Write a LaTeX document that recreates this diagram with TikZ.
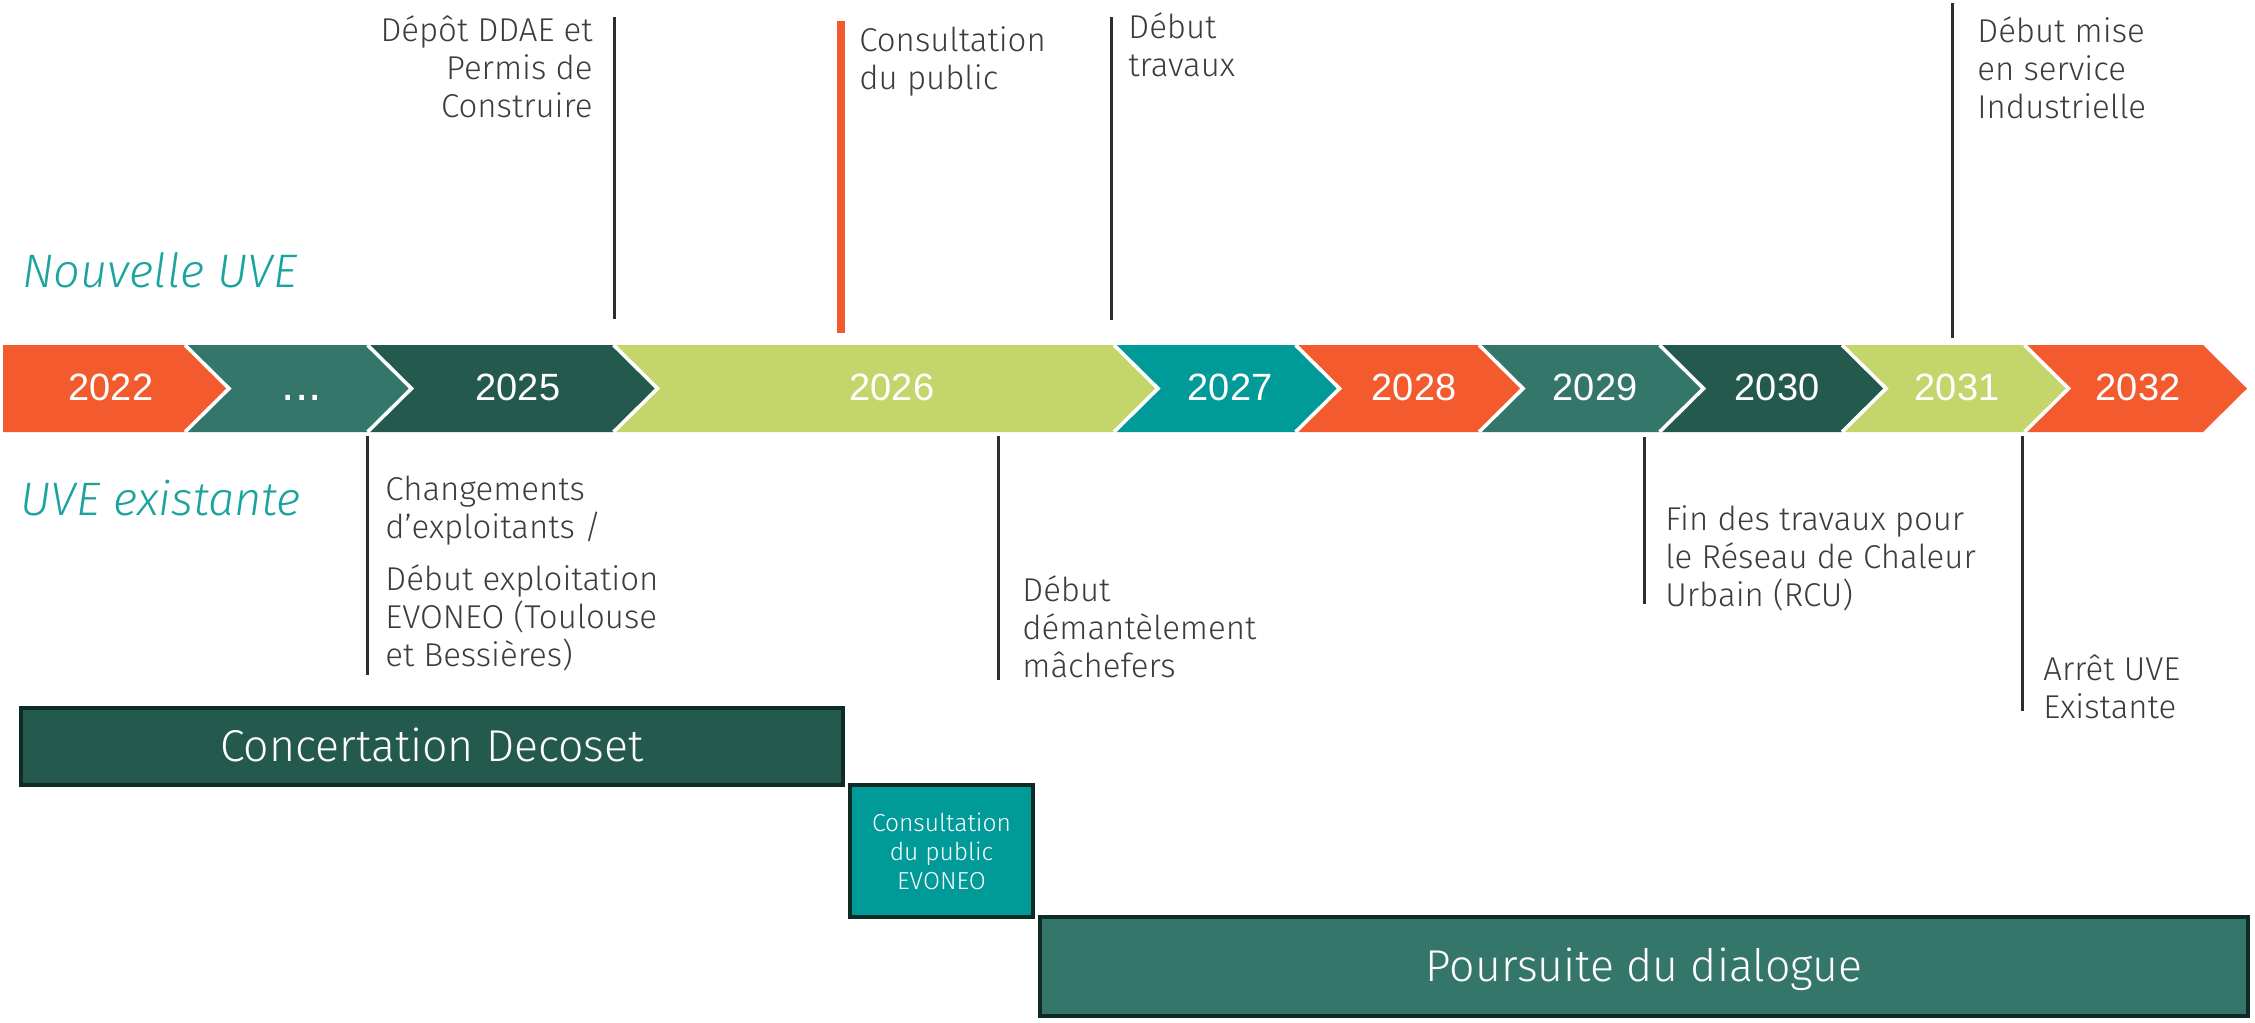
\documentclass[tikz,border=0pt]{standalone}
\usepackage{fontspec}
\setmainfont{Fira Sans Light}[ItalicFont={Fira Sans Light Italic}]
\newfontfamily\yearfont{Liberation Sans}

\definecolor{uveorange}{HTML}{F35B2F}
\definecolor{uvemid}{HTML}{35766A}
\definecolor{uvedark}{HTML}{24594E}
\definecolor{uvelime}{HTML}{C4D66B}
\definecolor{uveteal}{HTML}{009A98}
\definecolor{tickgray}{HTML}{2E2E2E}
\definecolor{notegray}{HTML}{3C3C3C}
\definecolor{labelteal}{HTML}{1BA39E}
\definecolor{boxedge}{HTML}{0F2B26}

\begin{document}
\begin{tikzpicture}[x=0.5pt,y=-0.5pt,
  tick/.style={draw=tickgray, line width=1.5pt},
  % multi-line notes are anchored on the baseline of their last line
  note/.style={inner sep=0pt, text=notegray, font=\fontsize{16.5}{19}\selectfont, align=left},
  rowlabel/.style={inner sep=0pt, text=labelteal, font=\itshape\fontsize{23.5}{28}\selectfont, anchor=base west},
  yearlbl/.style={inner sep=0pt, text=white, font=\yearfont\fontsize{19}{22}\selectfont, anchor=base},
  phasebox/.style={draw=boxedge, line width=2pt, text=white, inner sep=0pt, align=center,
    font=\fontsize{22.3}{26}\selectfont},
  oneline/.style={text height=15pt, text depth=0pt}
]
\useasboundingbox (0,0) rectangle (2255,1023);

% ---- year band ----
\fill[uveorange] (3,345) -- (185,345) -- (229,388.5) -- (185,432) -- (3,432) -- cycle;
\foreach \l/\r/\c in {185/367.5/uvemid, 367.5/613.5/uvedark, 613.5/1114/uvelime,
                      1114/1295.5/uveteal, 1295.5/1479/uveorange, 1479/1659.5/uvemid,
                      1659.5/1842/uvedark, 1842/2024.5/uvelime, 2024.5/2203/uveorange}
  \fill[\c] (\l,345) -- (\r,345) -- (\r+44,388.5) -- (\r,432) -- (\l,432) -- (\l+44,388.5) -- cycle;
\foreach \b in {185,367.5,613.5,1114,1295.5,1479,1659.5,1842,2024.5}
  \draw[white, line width=1.8pt] (\b,345) -- (\b+44,388.5) -- (\b,432);

\node[yearlbl] (y2022) at (111,400) {2022};
\node[yearlbl, font=\yearfont\fontsize{24}{26}\selectfont] (ydots) at (302,400) {...};
\node[yearlbl] (y2025) at (518,400) {2025};
\node[yearlbl] (y2026) at (892,400) {2026};
\node[yearlbl] (y2027) at (1230,400) {2027};
\node[yearlbl] (y2028) at (1414,400) {2028};
\node[yearlbl] (y2029) at (1595,400) {2029};
\node[yearlbl] (y2030) at (1777,400) {2030};
\node[yearlbl] (y2031) at (1957,400) {2031};
\node[yearlbl] (y2032) at (2138,400) {2032};

% ---- row labels ----
\node[rowlabel] (nouvelle) at (22,287) {Nouvelle UVE};
\node[rowlabel] (existante) at (20,515) {UVE existante};

% ---- milestones above the band ----
\coordinate (depotA) at (614,17);   \coordinate (depotB) at (614,319);
\coordinate (consA) at (841,21);    \coordinate (consB) at (841,333);
\coordinate (travA) at (1111,17);   \coordinate (travB) at (1111,320);
\coordinate (miseA) at (1952,3);    \coordinate (miseB) at (1952,338);
\draw[tick] (depotA) -- (depotB);
\draw[draw=uveorange, line width=4pt] (consA) -- (consB);
\draw[tick] (travA) -- (travB);
\draw[tick] (miseA) -- (miseB);

\node[note, align=right, anchor=base east] (depot) at (593,117) {Dépôt DDAE et\\Permis de\\Construire};
\node[note, anchor=base west] (consult) at (859,89) {Consultation\\du public};
\node[note, anchor=base west] (travaux) at (1128,76) {Début\\travaux};
\node[note, anchor=base west] (mise) at (1977,118) {Début mise\\en service\\Industrielle};

% ---- milestones below the band ----
\coordinate (chgA) at (367,436);    \coordinate (chgB) at (367,675);
\coordinate (demA) at (998,436);    \coordinate (demB) at (998,680);
\coordinate (rcuA) at (1644,437);   \coordinate (rcuB) at (1644,604);
\coordinate (arrA) at (2022,436);   \coordinate (arrB) at (2022,711);
\draw[tick] (chgA) -- (chgB);
\draw[tick] (demA) -- (demB);
\draw[tick] (rcuA) -- (rcuB);
\draw[tick] (arrA) -- (arrB);

\node[note, anchor=base west] (changements) at (385,666)
  {Changements\\d’exploitants /\\[7pt]Début exploitation\\EVONEO (Toulouse\\et Bessières)};
\node[note, anchor=base west] (demantelement) at (1022,677) {Début\\démantèlement\\mâchefers};
\node[note, anchor=base west] (rcu) at (1665,606) {Fin des travaux pour\\le Réseau de Chaleur\\Urbain (RCU)};
\node[note, anchor=base west] (arret) at (2043,718) {Arrêt UVE\\Existante};

% ---- consultation phases ----
\node[phasebox, oneline, fill=uvedark, minimum width=411pt, minimum height=38.5pt] (decoset)
  at (432,746.5) {Concertation Decoset};
\node[phasebox, fill=uveteal, minimum width=91.5pt, minimum height=66pt,
      font=\fontsize{12.3}{14.5}\selectfont] (evoneo)
  at (941.5,851) {Consultation\\du public\\EVONEO};
\node[phasebox, oneline, fill=uvemid, minimum width=604pt, minimum height=49.5pt] (dialogue)
  at (1644,966.5) {Poursuite du dialogue};
\end{tikzpicture}
\end{document}
